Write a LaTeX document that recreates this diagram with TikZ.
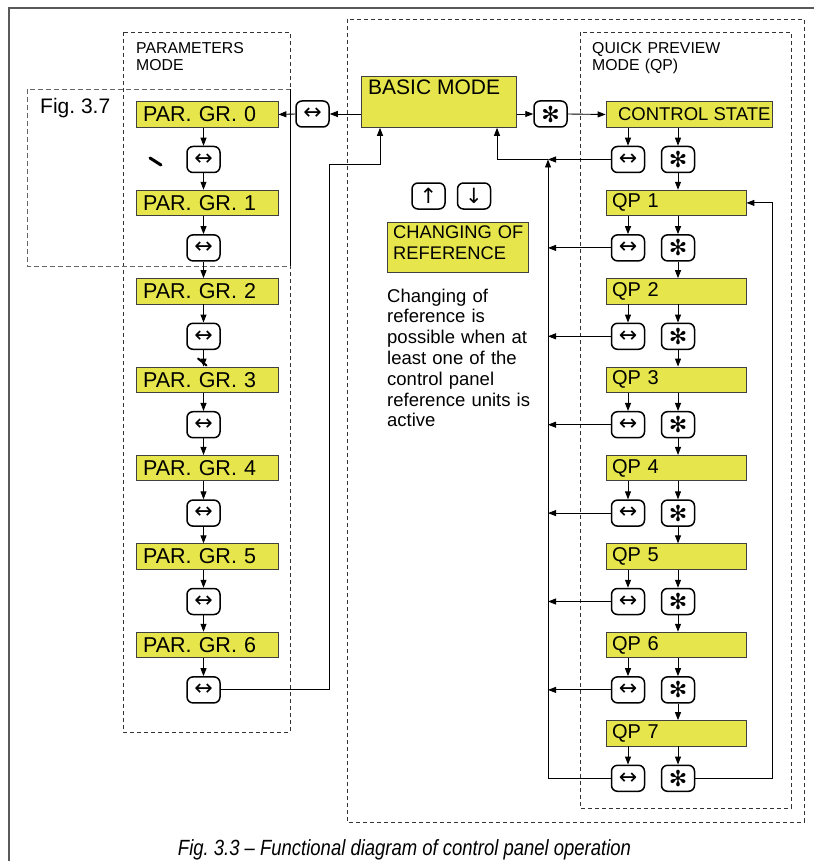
\documentclass[tikz,border=0pt]{standalone}
\usepackage{fontspec}
\usepackage{graphicx}
\setmainfont{Liberation Sans}
\newfontfamily\symfont{DejaVu Sans}
\usetikzlibrary{arrows.meta}
\definecolor{yel}{RGB}{230,230,76}
\frenchspacing
\newcommand\fsz[1]{\fontsize{#1}{#1}\selectfont}
\newcommand\lrsym{{\symfont\fsz{22}↔}}
\newcommand\starsym{{\symfont\fsz{22}✻}}
\newcommand\upsym{{\symfont\fsz{21}↑}}
\newcommand\dnsym{{\symfont\fsz{21}↓}}
\begin{document}
\begin{tikzpicture}[x=1pt,y=-1pt,
 arr/.style={-{Triangle[length=8pt,width=6pt]}, line width=0.9pt},
 ln/.style={line width=0.9pt},
 ybox/.style={draw=black!75, line width=0.8pt, fill=yel, minimum height=25.5pt, inner ysep=0pt, align=left, font=\fsz{20}},
 btn/.style={draw, line width=1.5pt, rounded corners=6pt, minimum width=33pt, minimum height=26pt, inner sep=0pt, fill=white},
 dbox/.style={dash pattern=on 4pt off 3pt, line width=0.8pt, draw=black!80},
 lbl/.style={anchor=base west, inner sep=0pt, align=left},
]
\fill[white] (0,0) rectangle (814,861);
\useasboundingbox (0,0) rectangle (814,861);
% frame
\draw[line width=1.8pt, black!65] (9,861) -- (9,8) -- (814,8);
% dashed areas
\draw[dbox] (123,32) rectangle (290,732);
\draw[dbox, draw=black!60, dash pattern=on 5pt off 3pt] (27,89) rectangle (290,266);
\draw[ln] (290,89) -- (290,266);
\draw[dbox] (347,19) rectangle (804,822);
\draw[dbox] (580,32) rectangle (791,808);
% labels
\node[lbl, text width=150pt, font=\fontsize{15.8}{17.7}\selectfont] (pmlabel) at (136,53.3) {PARAMETERS\\MODE};
\node[lbl, text width=180pt, font=\fontsize{15.8}{17.7}\selectfont] (qplabel) at (592,53.3) {QUICK PREVIEW\\MODE (QP)};
\node[lbl, font=\fsz{21}] (figlabel) at (40,114) {Fig. 3.7};
% basic mode
\node[ybox, minimum width=155pt, minimum height=51pt, anchor=north west] (basic) at (361,76) {};
\node[lbl, font=\fsz{21}] (basictext) at (368,95) {BASIC MODE};
% parameter column
\foreach \k in {0,...,6}{
  \pgfmathsetmacro\yy{114.5+88.4*\k}
  \node[ybox, text width=128pt, inner xsep=7pt, font=\fsz{21.5}] (pg\k) at (207,\yy) {PAR. GR. \k};
  \node[btn] (pb\k) at (203.5,\yy+45) {\lrsym};
  \draw[arr] (pb\k |- pg\k.south) -- (pb\k.north);
}
\foreach \k in {1,...,6}{
  \pgfmathtruncatemacro\j{\k-1}
  \draw[arr] (pb\j.south) -- (pb\j |- pg\k.north);
}
% QP column
\node[ybox, minimum width=166pt, inner xsep=0pt, font=\fsz{18.5}] (qp0) at (689,114.5) {\makebox[166pt][l]{\hspace*{12pt}CONTROL STATE}};
\foreach \k in {1,...,7}{
  \node[ybox, text width=128pt, inner xsep=6pt] (qp\k) at (676,114.5+88.4*\k) {QP \k};
}
\foreach \k in {0,...,7}{
  \pgfmathsetmacro\yy{159.5+88.4*\k}
  \node[btn] (qa\k) at (628,\yy) {\lrsym};
  \node[btn] (qs\k) at (678,\yy) {\starsym};
  \draw[arr] (qa\k |- qp\k.south) -- (qa\k.north);
  \draw[arr] (qs\k |- qp\k.south) -- (qs\k.north);
}
\foreach \k in {1,...,7}{
  \pgfmathtruncatemacro\j{\k-1}
  \draw[arr] (qs\j.south) -- (qs\j |- qp\k.north);
}
% top buttons
\node[btn] (blr) at (312.5,114) {\lrsym};
\node[btn] (bst) at (550.5,114) {\starsym};
\draw[arr] (basic.west |- blr) -- (blr.east);
\draw[arr] (blr.west) -- (pg0.east);
\draw[arr] (basic.east |- bst) -- (bst.west);
\draw[arr] (bst.east) -- (qp0.west);
% feedback left of QP
\coordinate (jn) at (548,159.5);
\foreach \k in {0,...,6}{
  \draw[arr] (qa\k.west) -- (qa\k.west -| jn);
}
\draw[ln] (qa7.west) -- (qa7.west -| jn);
\draw[arr] (qa7.west -| jn) -- (jn);
\draw[arr] (jn) -| ([xshift=136pt]basic.south west);
% feedback right of QP
\draw[arr] (qs7.east) -- ++(77.5,0) |- (qp1.east);
% feedback from parameters
\draw[arr] (pb6.east) -| (329,164) -- (380,164) -- ([xshift=19pt]basic.south west);
% reference change
\node[btn] (bup) at (428.5,196) {\upsym};
\node[btn] (bdn) at (474,196) {\dnsym};
\node[ybox, anchor=north west, minimum width=141pt, minimum height=50pt] (chg) at (387,222) {};
\node[lbl, text width=140pt, font=\fontsize{18.3}{21}\selectfont] (chgtext) at (393,238) {CHANGING OF\\REFERENCE};
\node[lbl, text width=160pt, font=\fontsize{18.5}{20.8}\selectfont] (note) at (387,302) {Changing of\\reference is\\possible when at\\least one of the\\control panel\\reference units is\\active};
% small marks
\draw[line width=3pt, line cap=round] (150,158) -- (161,165);
\draw[line width=2pt, line cap=round] (198,358.5) -- (206.5,365.5);
% caption
\node[anchor=base, inner sep=0pt] (caption) at (404.5,855) {\scalebox{0.84}[1]{\fsz{22}\itshape Fig. 3.3 – Functional diagram of control panel operation}};
\end{tikzpicture}
\end{document}
